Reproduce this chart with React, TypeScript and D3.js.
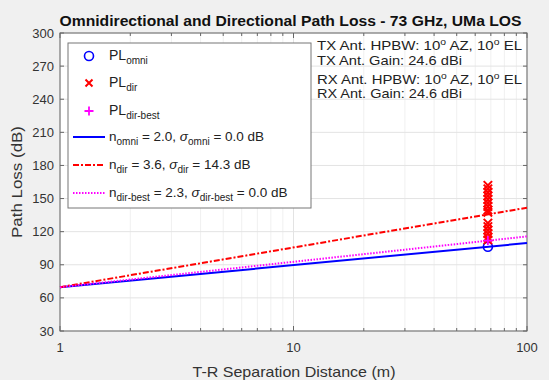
import React, { useEffect, useRef } from 'react';
import * as d3 from 'd3';

// model lines, endpoints at 1 m and 100 m
const lineDist = [1, 100];
const omniLine = [69.7, 109.7];
const dirLine = [69.7, 141.7];
const dirBestLine = [69.7, 115.7];

// measurements
const omniPts = [{ d: 68, pl: 106.3 }];
const dirPts = [162.0, 158.8, 155.6, 152.4, 149.2, 146.0, 142.8, 139.6, 137.5, 127.8, 124.6, 121.4, 118.2, 115.0, 112.5].map(pl => ({ d: 68, pl }));
const dirBestPts = [{ d: 68, pl: 111.9 }];

const yTicks = [30, 60, 90, 120, 150, 180, 210, 240, 270, 300];
const xTicks = [1, 10, 100];
const xMinor = [2, 3, 4, 5, 6, 7, 8, 9, 20, 30, 40, 50, 60, 70, 80, 90];

const annotation = [
  ['TX Ant. HPBW: 10', 'o', ' AZ, 10', 'o', ' EL'],
  ['TX Ant. Gain: 24.6 dBi'],
  ['RX Ant. HPBW: 10', 'o', ' AZ, 10', 'o', ' EL'],
  ['RX Ant. Gain: 24.6 dBi'],
];

const FONT = 'Liberation Sans, Arial, sans-serif';

export default function App() {
  const svgRef = useRef<SVGSVGElement>(null);

  useEffect(() => {
    if (!svgRef.current) return;
    const svg = d3.select(svgRef.current);
    svg.selectAll('*').remove();

    const W = 549, H = 380;
    const m = { left: 60, right: 527, top: 33, bottom: 331 };

    svg.append('rect').attr('width', W).attr('height', H).attr('fill', '#f0f0f0');

    const x = d3.scaleLog().domain([1, 100]).range([m.left, m.right]);
    const y = d3.scaleLinear().domain([30, 300]).range([m.bottom, m.top]);

    // plot area
    svg.append('rect')
      .attr('x', m.left).attr('y', m.top)
      .attr('width', m.right - m.left).attr('height', m.bottom - m.top)
      .attr('fill', '#fff');

    // grid
    const grid = svg.append('g');
    xMinor.forEach(v => {
      grid.append('line')
        .attr('x1', x(v)).attr('x2', x(v)).attr('y1', m.top).attr('y2', m.bottom)
        .attr('stroke', '#f0f0f0').attr('stroke-width', 1);
    });
    xTicks.forEach(v => {
      grid.append('line')
        .attr('x1', x(v)).attr('x2', x(v)).attr('y1', m.top).attr('y2', m.bottom)
        .attr('stroke', '#e3e3e3').attr('stroke-width', 1);
    });
    yTicks.forEach(v => {
      grid.append('line')
        .attr('x1', m.left).attr('x2', m.right).attr('y1', y(v)).attr('y2', y(v))
        .attr('stroke', '#e3e3e3').attr('stroke-width', 1);
    });

    // ticks (inward, all four sides)
    const axisCol = '#666';
    const ticks = svg.append('g').attr('stroke', axisCol).attr('stroke-width', 1);
    yTicks.forEach(v => {
      ticks.append('line').attr('x1', m.left).attr('x2', m.left + 4).attr('y1', y(v)).attr('y2', y(v));
      ticks.append('line').attr('x1', m.right).attr('x2', m.right - 4).attr('y1', y(v)).attr('y2', y(v));
    });
    xTicks.concat(xMinor).forEach(v => {
      const len = xTicks.includes(v) ? 5 : 3;
      ticks.append('line').attr('x1', x(v)).attr('x2', x(v)).attr('y1', m.bottom).attr('y2', m.bottom - len);
      ticks.append('line').attr('x1', x(v)).attr('x2', x(v)).attr('y1', m.top).attr('y2', m.top + len);
    });
    svg.append('rect')
      .attr('x', m.left).attr('y', m.top)
      .attr('width', m.right - m.left).attr('height', m.bottom - m.top)
      .attr('fill', 'none').attr('stroke', axisCol).attr('stroke-width', 1);

    // tick labels
    const labCol = '#333';
    yTicks.forEach(v => {
      svg.append('text')
        .attr('x', m.left - 6).attr('y', y(v)).attr('dy', '0.35em')
        .attr('text-anchor', 'end').attr('font-family', FONT).attr('font-size', 13).attr('fill', labCol)
        .text(v);
    });
    xTicks.forEach(v => {
      svg.append('text')
        .attr('x', x(v)).attr('y', m.bottom + 16).attr('dy', '0.35em')
        .attr('text-anchor', 'middle').attr('font-family', FONT).attr('font-size', 13).attr('fill', labCol)
        .text(v);
    });

    // axis titles
    svg.append('text')
      .attr('x', 294).attr('y', 372).attr('dy', '0.35em')
      .attr('text-anchor', 'middle').attr('font-family', FONT).attr('font-size', 14.5).attr('fill', labCol)
      .attr('textLength', 203).attr('lengthAdjust', 'spacingAndGlyphs')
      .text('T-R Separation Distance (m)');
    svg.append('text')
      .attr('transform', `translate(17,${(m.top + m.bottom) / 2}) rotate(-90)`).attr('dy', '0.35em')
      .attr('text-anchor', 'middle').attr('font-family', FONT).attr('font-size', 14.5).attr('fill', labCol)
      .attr('textLength', 112).attr('lengthAdjust', 'spacingAndGlyphs')
      .text('Path Loss (dB)');
    svg.append('text')
      .attr('x', 290.5).attr('y', 21).attr('dy', '0.35em')
      .attr('text-anchor', 'middle').attr('font-family', FONT).attr('font-size', 14).attr('font-weight', 'bold')
      .attr('textLength', 462).attr('lengthAdjust', 'spacingAndGlyphs')
      .attr('fill', '#111')
      .text('Omnidirectional and Directional Path Loss - 73 GHz, UMa LOS');

    // lines
    const line = d3.line<number>()
      .x((_, i) => x(lineDist[i]))
      .y(d => y(d));
    const styles = [
      { data: omniLine, color: '#0000ff', dash: null },
      { data: dirLine, color: '#ff0000', dash: '6,2,2,2' },
      { data: dirBestLine, color: '#ff00ff', dash: '1.5,1.5' },
    ];
    styles.forEach(s => {
      svg.append('path')
        .datum(s.data)
        .attr('d', line)
        .attr('fill', 'none')
        .attr('stroke', s.color)
        .attr('stroke-width', 2)
        .attr('stroke-dasharray', s.dash);
    });

    // markers
    const drawX = (g: any, cx: number, cy: number, r: number) => {
      g.append('path')
        .attr('d', `M${cx - r},${cy - r}L${cx + r},${cy + r}M${cx - r},${cy + r}L${cx + r},${cy - r}`)
        .attr('stroke', '#ff0000').attr('stroke-width', 2).attr('fill', 'none');
    };
    const drawPlus = (g: any, cx: number, cy: number, r: number) => {
      g.append('path')
        .attr('d', `M${cx - r},${cy}L${cx + r},${cy}M${cx},${cy - r}L${cx},${cy + r}`)
        .attr('stroke', '#ff00ff').attr('stroke-width', 1.8).attr('fill', 'none');
    };
    const drawO = (g: any, cx: number, cy: number, r: number) => {
      g.append('circle').attr('cx', cx).attr('cy', cy).attr('r', r)
        .attr('stroke', '#0000ff').attr('stroke-width', 1.6).attr('fill', 'none');
    };
    const mk = svg.append('g');
    omniPts.forEach(p => drawO(mk, x(p.d), y(p.pl), 4.5));
    dirPts.forEach(p => drawX(mk, x(p.d), y(p.pl), 4.2));
    dirBestPts.forEach(p => drawPlus(mk, x(p.d), y(p.pl), 4.5));

    // legend
    const lg = svg.append('g');
    lg.append('rect')
      .attr('x', 68).attr('y', 43).attr('width', 243).attr('height', 165)
      .attr('fill', '#fff').attr('stroke', '#777').attr('stroke-width', 1);

    const legText = (ty: number) => lg.append('text')
      .attr('x', 109).attr('y', ty + 4.5).attr('font-family', FONT).attr('font-size', 14).attr('fill', '#222');
    const sub = (t: any, main: string, s: string) => {
      t.append('tspan').text(main);
      t.append('tspan').attr('dy', 4).attr('font-size', 10).text(s);
    };

    drawO(lg, 89, 56, 4.5);
    sub(legText(55), 'PL', 'omni');
    drawX(lg, 89, 83, 3.5);
    sub(legText(82), 'PL', 'dir');
    drawPlus(lg, 89, 111, 4.5);
    sub(legText(110), 'PL', 'dir-best');

    const legLines = [
      { y: 137, st: styles[0], n: 'omni', nv: '2.0', sv: '0.0' },
      { y: 165, st: styles[1], n: 'dir', nv: '3.6', sv: '14.3' },
      { y: 193, st: styles[2], n: 'dir-best', nv: '2.3', sv: '0.0' },
    ];
    legLines.forEach(l => {
      lg.append('line')
        .attr('x1', 73).attr('x2', 105).attr('y1', l.y).attr('y2', l.y)
        .attr('stroke', l.st.color).attr('stroke-width', 2).attr('stroke-dasharray', l.st.dash);
      const t = legText(l.y - 1).attr('font-size', 13.5);
      t.append('tspan').text('n');
      t.append('tspan').attr('dy', 4).attr('font-size', 10).text(l.n);
      t.append('tspan').attr('dy', -4).text(` = ${l.nv}, `);
      t.append('tspan').attr('font-style', 'italic').text('σ');
      t.append('tspan').attr('dy', 4).attr('font-size', 10).text(l.n);
      t.append('tspan').attr('dy', -4).text(` = ${l.sv} dB`);
    });

    // annotation
    const annY = [45, 60, 79, 93];
    const annLen = [205, 145, 205, 145];
    annotation.forEach((parts, i) => {
      const t = svg.append('text')
        .attr('x', 317).attr('y', annY[i] + 4.5)
        .attr('font-family', FONT).attr('font-size', 13).attr('fill', '#222')
        .attr('textLength', annLen[i]).attr('lengthAdjust', 'spacingAndGlyphs');
      let lift = 0;
      parts.forEach(p => {
        if (p === 'o') {
          t.append('tspan').attr('dy', -5).attr('font-size', 9).text('o');
          lift = 5;
        } else {
          t.append('tspan').attr('dy', lift).text(p);
          lift = 0;
        }
      });
    });
  }, []);

  return (
    <svg
      ref={svgRef}
      width={549}
      height={380}
      style={{ position: 'absolute', left: 0, top: 0 }}
    />
  );
}
